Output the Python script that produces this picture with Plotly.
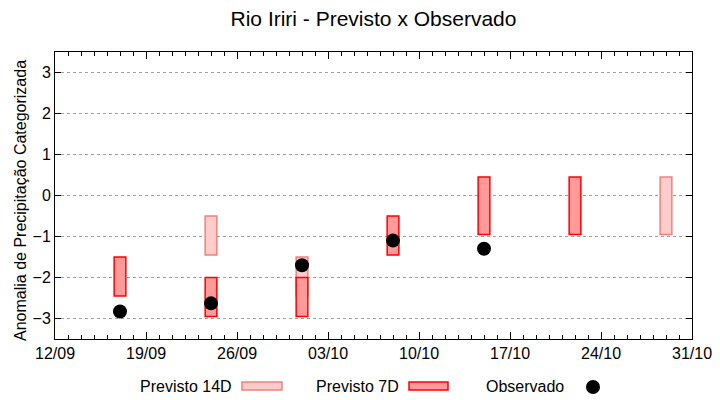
import plotly.graph_objects as go
import pandas as pd

# ---- data ----
dates_14d = ["2023-09-24", "2023-10-01", "2023-10-29"]
high_14d = [-0.5, -1.5, 0.45]
low_14d = [-1.45, -2.45, -0.95]

dates_7d = ["2023-09-17", "2023-09-24", "2023-10-01", "2023-10-08", "2023-10-15", "2023-10-22"]
high_7d = [-1.5, -2.0, -2.0, -0.5, 0.45, 0.45]
low_7d = [-2.45, -2.95, -2.95, -1.45, -0.95, -0.95]

dates_obs = ["2023-09-17", "2023-09-24", "2023-10-01", "2023-10-08", "2023-10-15"]
obs = [-2.83, -2.63, -1.7, -1.1, -1.3]

y_ticks = [-3, -2, -1, 0, 1, 2, 3]
title = "Rio Iriri - Previsto x Observado"
y_title = "Anomalia de Precipitação Categorizada"
legend_labels = ["Previsto 14D", "Previsto 7D", "Observado"]

DAY = 86400000
FONT = "Liberation Sans, Arial, sans-serif"

fig = go.Figure()
fig.add_trace(go.Bar(
    x=dates_14d, base=low_14d, y=[h - l for h, l in zip(high_14d, low_14d)],
    width=0.9 * DAY, marker=dict(color="#ffcccc", line=dict(color="#f08278", width=1.5)),
    name=legend_labels[0], showlegend=False))
fig.add_trace(go.Bar(
    x=dates_7d, base=low_7d, y=[h - l for h, l in zip(high_7d, low_7d)],
    width=0.9 * DAY, marker=dict(color="#ff9a9a", line=dict(color="#ff0000", width=1.5)),
    name=legend_labels[1], showlegend=False))
fig.add_trace(go.Scatter(
    x=dates_obs, y=obs, mode="markers",
    marker=dict(color="black", size=14, symbol="circle"),
    name=legend_labels[2], showlegend=False))

# plot area geometry in pixels
L, R, T, B = 55, 692, 52, 339
W, H = R - L, B - T

def px(x):
    return (x - L) / W

def py(y):
    return (B - y) / H

shapes = []
annotations = []
# y-axis title
annotations.append(dict(text=y_title, x=px(20), y=py(201), xref="paper", yref="paper",
                        xanchor="center", yanchor="middle", textangle=-90, showarrow=False,
                        font=dict(family=FONT, size=16, color="black")))
# manual legend: text left of symbol
leg_y = 386
items = [
    (legend_labels[0], 234, (242, 282), "#ffcccc", "#f08278"),
    (legend_labels[1], 401, (409, 448), "#ff9a9a", "#ff0000"),
]
for text, tx, (bx0, bx1), fc, lc in items:
    annotations.append(dict(text=text, x=px(tx), y=py(leg_y), xref="paper", yref="paper",
                            xanchor="right", yanchor="middle", showarrow=False,
                            font=dict(family=FONT, size=16, color="black")))
    shapes.append(dict(type="rect", xref="paper", yref="paper",
                       x0=px(bx0), x1=px(bx1), y0=py(leg_y + 4), y1=py(leg_y - 4),
                       fillcolor=fc, line=dict(color=lc, width=1.5)))
annotations.append(dict(text=legend_labels[2], x=px(566), y=py(leg_y), xref="paper", yref="paper",
                        xanchor="right", yanchor="middle", showarrow=False,
                        font=dict(family=FONT, size=16, color="black")))
shapes.append(dict(type="circle", xref="paper", yref="paper",
                   x0=px(593 - 7), x1=px(593 + 7), y0=py(387 + 7), y1=py(387 - 7),
                   fillcolor="black", line=dict(color="black", width=0)))

fig.update_layout(
    width=720, height=400,
    margin=dict(l=L, r=720 - R, t=T, b=400 - B, autoexpand=False),
    paper_bgcolor="white", plot_bgcolor="white",
    barmode="overlay",
    showlegend=False,
    title=dict(text=title, x=0.5, xref="paper", xanchor="center", y=1 - 19 / 400, yanchor="middle",
               font=dict(family=FONT, size=21, color="black")),
    font=dict(family=FONT, size=16, color="black"),
    shapes=shapes, annotations=annotations,
)
fig.update_xaxes(
    type="date", range=["2023-09-12", "2023-10-31"], automargin=False,
    tick0="2023-09-12", dtick=7 * DAY, tickformat="%d/%m",
    ticks="inside", ticklen=7, tickcolor="black", tickwidth=1,
    minor=dict(dtick=DAY, ticks="inside", ticklen=4, tickcolor="black", showgrid=False),
    showline=True, linecolor="black", linewidth=1, mirror="ticks",
    showgrid=False, zeroline=False,
    tickfont=dict(family=FONT, size=16, color="black"),
)
fig.update_yaxes(
    range=[-3.5, 3.5], tickvals=y_ticks, automargin=False,
    ticks="inside", ticklen=6, tickcolor="black",
    showline=True, linecolor="black", linewidth=1, mirror="ticks",
    showgrid=True, gridcolor="#a0a0a0", griddash="dot", gridwidth=1,
    zeroline=False,
    tickfont=dict(family=FONT, size=16, color="black"),
)

fig.write_html("out.html", config={"displayModeBar": False},
               post_script="document.body.style.margin='0';document.body.style.padding='0';document.body.style.overflow='hidden';")
